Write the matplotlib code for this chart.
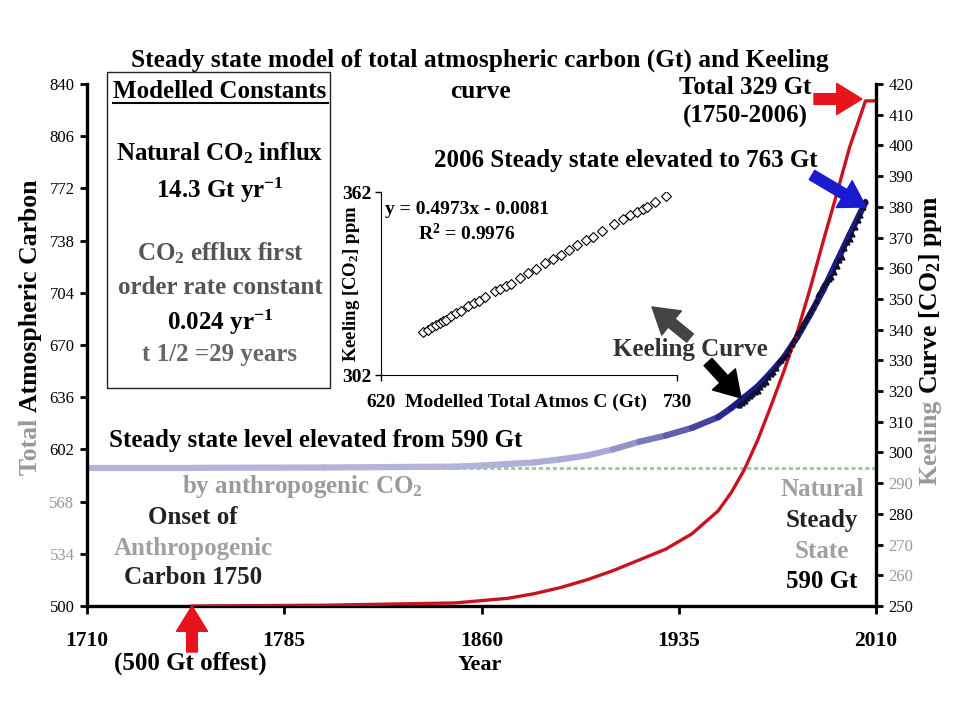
import numpy as np
import matplotlib
matplotlib.use('Agg')
import matplotlib.pyplot as plt
from matplotlib.collections import LineCollection
from matplotlib.colors import LinearSegmentedColormap
from matplotlib.patches import Rectangle, FancyArrowPatch
from matplotlib.lines import Line2D

plt.rcParams['font.family'] = 'Liberation Serif'
plt.rcParams['mathtext.fontset'] = 'custom'
plt.rcParams['mathtext.rm'] = 'Liberation Serif:bold'
plt.rcParams['mathtext.bf'] = 'Liberation Serif:bold'
plt.rcParams['mathtext.it'] = 'Liberation Serif:bold:italic'
plt.rcParams['mathtext.default'] = 'bf'

# steady state model, total atmospheric carbon (Gt)
model_years = [1710, 1750, 1800, 1850, 1860, 1870, 1880, 1890, 1900, 1910, 1920, 1930,
               1940, 1950, 1955, 1960, 1965, 1970, 1975, 1980, 1985, 1990, 1995, 2000, 2006]
model_c = [590, 590, 590.2, 590.8, 591.5, 592.5, 593.5, 595.5, 598, 602, 607, 611,
           616, 623, 629, 636, 643, 652, 662, 675, 690, 706, 724, 742, 763]

# cumulative anthropogenic carbon + 500 Gt offset
cum_years = [1750, 1800, 1850, 1870, 1880, 1890, 1900, 1910, 1920, 1930, 1940, 1950,
             1955, 1960, 1965, 1970, 1975, 1980, 1985, 1990, 1995, 2000, 2006, 2010]
cum_c = [500, 500.5, 502, 505, 508, 512, 517, 523, 530, 537, 547, 562,
         574, 589, 608, 630, 653, 678, 707, 738, 768, 799, 829, 829]

# Keeling curve, annual means (ppm)
keel_years = list(range(1958, 2007))
keel_ppm = [315.3, 316.0, 316.9, 317.6, 318.5, 319.0, 319.6, 320.0, 321.4, 322.2,
            323.0, 324.6, 325.7, 326.3, 327.5, 329.7, 330.2, 331.1, 332.0, 333.8,
            335.4, 336.8, 338.8, 340.1, 341.5, 343.1, 344.7, 346.1, 347.4, 349.2,
            351.6, 353.1, 354.4, 355.6, 356.5, 357.1, 358.8, 360.8, 362.6, 363.7,
            366.7, 368.4, 369.6, 371.1, 373.3, 375.8, 377.5, 379.8, 381.9]

# inset: modelled total C (Gt) vs Keeling ppm, 1959-1995
inset_c = [635.5, 637.3, 639.0, 640.5, 641.8, 643.0, 644.2, 646.0, 647.9, 649.6,
           652.4, 654.6, 656.3, 658.6, 662.4, 664.3, 666.4, 668.4, 671.6, 674.6,
           677.5, 681.0, 684.0, 686.8, 689.7, 692.7, 696.0, 698.6, 702.0, 706.5,
           709.8, 712.6, 715.3, 717.2, 718.9, 722.0, 725.8]
inset_ppm = keel_ppm[1:38]

W, H = 960, 720
fig = plt.figure(figsize=(9.6, 7.2), dpi=100)

def fx(x):
    return x / W

def fy(y):
    return 1 - y / H

ax = fig.add_axes([fx(87), fy(606), (876 - 87) / W, (606 - 84) / H])
ax.set_xlim(1710, 2010)
ax.set_ylim(500, 840)

ax.axhline(590, color='#96cc96', lw=2, ls=(0, (1.5, 1)), zorder=1)

# model curve, light at the flat part and dark navy on the rise
pts = np.array([model_years, model_c], dtype=float).T
segs = np.stack([pts[:-1], pts[1:]], axis=1)
cmap = LinearSegmentedColormap.from_list('bl', ['#b4b4da', '#a8a8d6', '#1c1c86'])
norm = plt.Normalize(1850, 1955)
lc = LineCollection(segs, cmap=cmap, norm=norm, lw=4.5, capstyle='round', zorder=2)
lc.set_array(np.array(model_years[:-1], dtype=float))
ax.add_collection(lc)

ax.plot(cum_years, cum_c, color='#c8141e', lw=2.4, zorder=3)

ax.set_xticks([1710, 1785, 1860, 1935, 2010])
ax.set_yticks(np.arange(500, 841, 34))
ax.tick_params(axis='x', direction='out', length=6, width=2, pad=12, labelsize=15.5)
ax.tick_params(axis='y', direction='out', length=5, width=2, pad=4, labelsize=12)
for lbl in ax.get_xticklabels():
    lbl.set_fontweight('bold')
for lbl in ax.get_yticklabels():
    if lbl.get_text() in ('568', '534'):
        lbl.set_color('#999999')
ax.spines['top'].set_visible(False)
ax.spines['right'].set_visible(False)
ax.spines['left'].set_linewidth(2.4)
ax.spines['bottom'].set_linewidth(2.4)

ax2 = ax.twinx()
ax2.set_ylim(250, 420)
ax2.set_yticks(np.arange(250, 421, 10))
ax2.plot(keel_years, keel_ppm, ls='none', marker='^', ms=3.5, color='#101030', zorder=4)
ax2.tick_params(axis='y', direction='out', length=5, width=2, pad=4, labelsize=12)
for lbl in ax2.get_yticklabels():
    if lbl.get_text() in ('290', '270', '260'):
        lbl.set_color('#999999')
for s in ('top', 'left', 'bottom'):
    ax2.spines[s].set_visible(False)
ax2.spines['right'].set_linewidth(2.4)

# inset regression
axi = fig.add_axes([fx(381), fy(375), (677 - 381) / W, (375 - 192) / H])
axi.plot(inset_c, inset_ppm, ls='none', marker='D', ms=5.5, mfc='white', mec='black', mew=0.8)
axi.set_xlim(620, 730)
axi.set_ylim(302, 362)
axi.set_xticks([620, 730])
axi.set_yticks([302, 362])
axi.tick_params(axis='x', direction='out', length=4, width=1, pad=10, labelsize=14)
axi.tick_params(axis='y', direction='out', length=4, width=1, pad=3, labelsize=14)
for lbl in axi.get_xticklabels() + axi.get_yticklabels():
    lbl.set_fontweight('bold')
axi.spines['top'].set_visible(False)
axi.spines['right'].set_visible(False)
axi.patch.set_alpha(0)
axi.set_ylabel('Keeling [CO$_2$] ppm', fontsize=13.5, fontweight='bold')
axi.yaxis.set_label_coords(-0.065, 0.5)
axi.text(0.49, -0.148, 'Modelled Total Atmos C (Gt)', transform=axi.transAxes,
         ha='center', va='center', fontsize=14, fontweight='bold')
axi.text(0.29, 0.905, 'y = 0.4973x - 0.0081', transform=axi.transAxes,
         ha='center', va='center', fontsize=14, fontweight='bold')
axi.text(0.29, 0.775, 'R$^2$ = 0.9976', transform=axi.transAxes,
         ha='center', va='center', fontsize=14, fontweight='bold')

# constants box
fig.add_artist(Rectangle((fx(107), fy(388)), (330 - 107) / W, (388 - 72) / H,
                         transform=fig.transFigure, facecolor='white', edgecolor='#222222', lw=1))
fig.add_artist(Line2D([fx(113), fx(328)], [fy(103), fy(103)], transform=fig.transFigure,
                      color='black', lw=1.5))

def ftext(x, y, s, color='black', size=18):
    fig.text(fx(x), fy(y), s, ha='center', va='center', fontsize=size,
             fontweight='bold', color=color)

ftext(480, 60, 'Steady state model of total atmospheric carbon (Gt) and Keeling', size=18.3)
ftext(480, 91, 'curve', size=18.3)
ftext(220, 91, 'Modelled Constants')
ftext(220, 153, 'Natural CO$_2$ influx')
ftext(220, 190, '14.3 Gt yr$^{-1}$')
ftext(220, 253, 'CO$_2$ efflux first', color='#555555')
ftext(220, 287, 'order rate constant', color='#555555')
ftext(220, 322, '0.024 yr$^{-1}$')
ftext(220, 354, 't 1/2 =29 years', color='#666666')
ftext(745, 87, 'Total 329 Gt')
ftext(745, 116, '(1750-2006)')
ftext(626, 160, '2006 Steady state elevated to 763 Gt')
ftext(690, 349, 'Keeling Curve', color='#333333')
ftext(316, 440, 'Steady state level elevated from 590 Gt')
ftext(302, 487, 'by anthropogenic CO$_2$', color='#9a9a9a')
ftext(193, 517, 'Onset of', color='#222222')
ftext(193, 548, 'Anthropogenic', color='#a0a0a0')
ftext(193, 578, 'Carbon 1750', color='#222222')
ftext(190, 663, '(500 Gt offest)')
ftext(822, 490, 'Natural', color='#a0a0a0')
ftext(822, 521, 'Steady', color='#222222')
ftext(822, 551, 'State', color='#a0a0a0')
ftext(822, 582, '590 Gt')
ftext(480, 665, 'Year', size=16)

# two-tone rotated axis labels
renderer = fig.canvas.get_renderer()

def vlabel(xb, ybottom, parts, size=18.5):
    y = ybottom
    for s, c in parts:
        t = fig.text(fx(xb), fy(y), s, rotation=90, rotation_mode='anchor',
                     ha='left', va='baseline', fontsize=size, fontweight='bold', color=c)
        y -= t.get_window_extent(renderer).height

vlabel(37, 475, [('Total ', '#999999'), ('Atmospheric Carbon', 'black')])
vlabel(937, 485, [('Keeling ', '#999999'), ('Curve [CO$_2$] ppm', 'black')])

# arrows
def arrow(x0, y0, x1, y1, color, scale=14):
    fig.add_artist(FancyArrowPatch((fx(x0), fy(y0)), (fx(x1), fy(y1)), transform=fig.transFigure,
                                   arrowstyle='simple,head_width=1.6,head_length=1.3,tail_width=0.55',
                                   mutation_scale=scale, color=color, shrinkA=0, shrinkB=0))

arrow(192, 652, 192, 606, '#e8141c')
arrow(814, 99, 862, 99, '#e8141c')
arrow(812, 175, 866, 207, '#1a1ad0')
arrow(708, 362, 741, 398, 'black')
arrow(690, 338, 652, 307, '#444444')

fig.savefig('out.png', dpi=100)
